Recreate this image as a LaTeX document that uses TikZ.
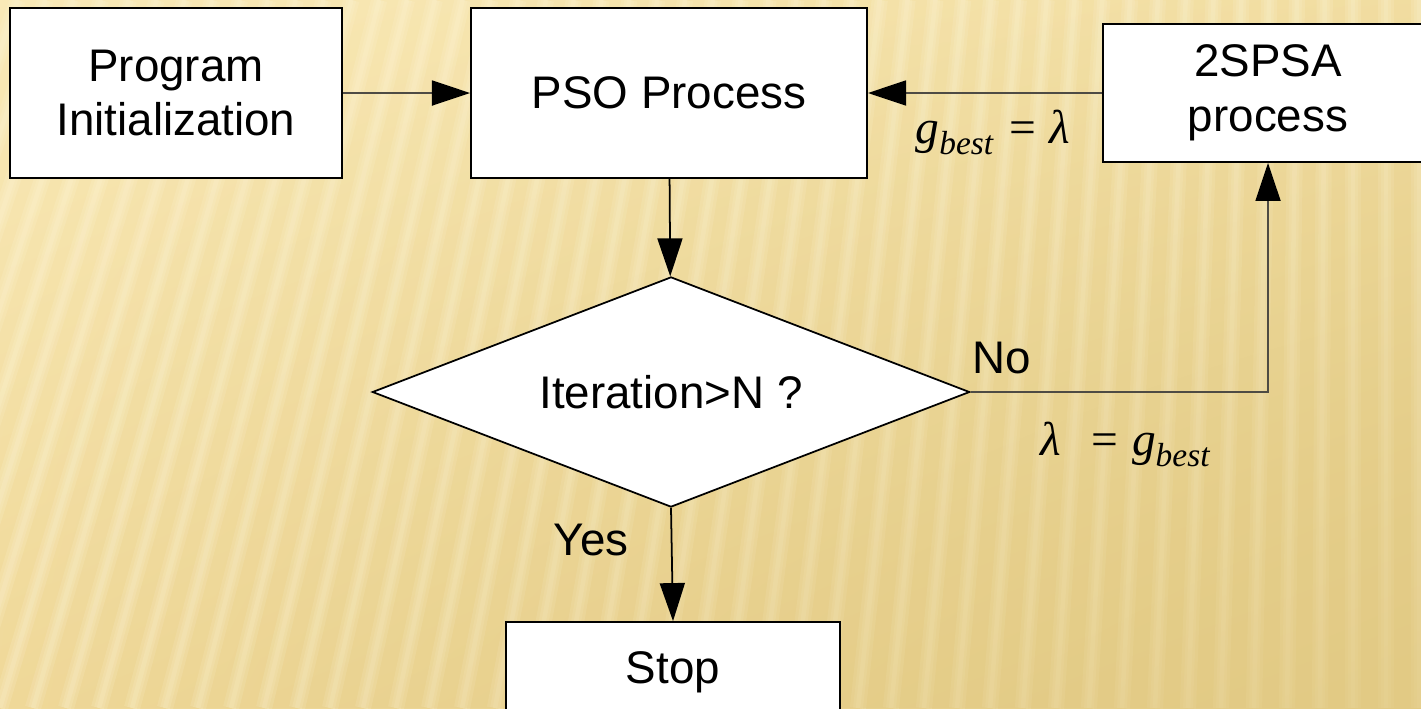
\documentclass[tikz,border=0pt]{standalone}
\usepackage{fontspec}
\setmainfont{Liberation Sans}
\newfontfamily\eqfont{Liberation Serif}
\usetikzlibrary{arrows.meta,shapes.geometric,fadings,shadings}

\definecolor{bgtl}{HTML}{FAEAB8}
\definecolor{bgtr}{HTML}{F2DEA2}
\definecolor{bgbl}{HTML}{F0D99A}
\definecolor{bgbr}{HTML}{E2CA84}
\definecolor{stripe}{HTML}{FFF8DC}
\definecolor{linegray}{HTML}{4E4B44}

% fading that is opaque only towards the lower right corner
\begin{tikzfadingfrompicture}[name=brcorner]
  \shade[upper left=black, upper right=black, lower left=black, lower right=white]
    (-1cm,-1cm) rectangle (1cm,1cm);
\end{tikzfadingfrompicture}

\begin{document}
\begin{tikzpicture}[x=0.01cm,y=-0.01cm,
  lbl/.style={font=\fontsize{13}{15.6}\selectfont, inner sep=0pt},
  box/.style={lbl, rectangle, draw=black, line width=0.5pt, fill=white, align=center},
  decision/.style={lbl, diamond, draw=black, line width=0.5pt, fill=white,
    shape aspect=2.6, minimum width=5.97cm, minimum height=2.30cm},
  flow/.style={draw=linegray, line width=0.5pt,
    -{Triangle[length=0.38cm,width=0.25cm,color=black]}},
  eq/.style={inner sep=0pt, font=\fontsize{13.5}{16}\eqfont}
]
\useasboundingbox (0,0) rectangle (1421,708);
\clip (0,0) rectangle (1421,708);

% textured background: gradient with soft slanted light stripes
\shade[upper left=bgtl, upper right=bgtr, lower left=bgbl, lower right=bgbr]
  (0,0) rectangle (1421,708);
\foreach \k in {-22,...,44} {
  \pgfmathsetmacro\xb{\k*33}
  \pgfmathsetmacro\xt{\xb + 708*max(0,0.30*(1-\xb/1350))}
  \draw[stripe, line width=4.6pt, opacity=0.16] (\xb,708) -- (\xt,0);
  \draw[stripe, line width=2.8pt, opacity=0.16] (\xb,708) -- (\xt,0);
  \draw[stripe, line width=1.3pt, opacity=0.18] (\xb,708) -- (\xt,0);
}
\fill[bgbr, fill opacity=0.8, path fading=brcorner, fit fading=true]
  (0,0) rectangle (1421,708);

% flowchart blocks
\node[box, minimum width=3.32cm, minimum height=1.70cm] (init) at (176,93)
  {Program\\Initialization};
\node[box, minimum width=3.96cm, minimum height=1.70cm] (pso) at (669,93)
  {PSO Process};
\node[box, minimum width=3.30cm, minimum height=1.38cm] (spsa) at (1268,93)
  {2SPSA\\process};
\node[decision] (dec) at (671,392) {Iteration>N ?};
\node[box, minimum width=3.34cm, minimum height=1.00cm] (stop) at (673,672)
  {Stop};

% connectors
\draw[flow] (init) -- (pso);
\draw[flow, draw=black] (pso) -- (dec);
\draw[flow, draw=black] (dec.south) -- (stop.north);
\draw[flow] (dec.east) -| (spsa.south);
\draw[flow] (spsa) -- (pso);

% branch labels
\node[lbl] (no) at (1002,358) {No};
\node[lbl] (yes) at (591,540) {Yes};

% parameter hand-over formulas
\node[eq, anchor=base west] (gl) at (915,143)
  {\itshape g\raisebox{-3.4pt}{\fontsize{9.5}{11}\selectfont\itshape best}\hspace{4.5pt}\upshape=\hspace{4pt}\itshape λ};
\node[eq, anchor=base west] (lg) at (1040,455)
  {\itshape λ\hspace{8.5pt}\upshape=\hspace{4pt}\itshape g\raisebox{-3.4pt}{\fontsize{9.5}{11}\selectfont\itshape best}};
\end{tikzpicture}
\end{document}
